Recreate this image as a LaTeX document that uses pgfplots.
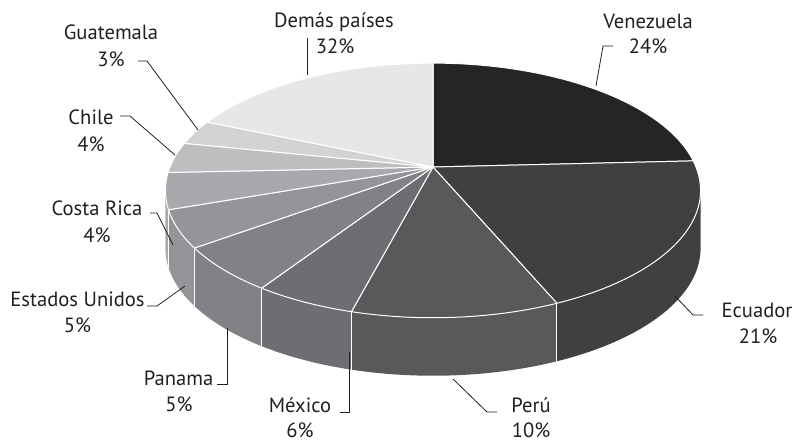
\documentclass[border=0pt]{standalone}
\usepackage{fontspec}
\setmainfont{PT Sans}
\usepackage{pgfplots}
\usepackage{pgfplotstable}
\pgfplotsset{compat=1.18}

\definecolor{cVen}{HTML}{262425}
\definecolor{cEcu}{HTML}{404041}
\definecolor{cPer}{HTML}{58595B}
\definecolor{cMex}{HTML}{6D6E71}
\definecolor{cPan}{HTML}{808285}
\definecolor{cUSA}{HTML}{939598}
\definecolor{cCRi}{HTML}{A7A9AC}
\definecolor{cChi}{HTML}{BCBEC0}
\definecolor{cGua}{HTML}{D1D3D4}
\definecolor{cDem}{HTML}{E6E7E8}
\definecolor{txt}{HTML}{231F20}

% share of the circle as drawn (%), label as printed
\pgfplotstableread{
name share label
Venezuela 24.2 24
Ecuador 19.4 21
Peru 10.5 10
Mexico 5.2 6
Panama 5.7 5
EEUU 4.7 5
CostaRica 4.6 4
Chile 3.9 4
Guatemala 3.2 3
Demas 18.6 32
}\piedata

\def\getshare#1{\pgfplotstablegetelem{#1}{share}\of\piedata}
\def\aA{90}%
\getshare{0}\pgfmathsetmacro\aB{\aA-3.6*\pgfplotsretval}%
\getshare{1}\pgfmathsetmacro\aC{\aB-3.6*\pgfplotsretval}%
\getshare{2}\pgfmathsetmacro\aD{\aC-3.6*\pgfplotsretval}%
\getshare{3}\pgfmathsetmacro\aE{\aD-3.6*\pgfplotsretval}%
\getshare{4}\pgfmathsetmacro\aF{\aE-3.6*\pgfplotsretval}%
\getshare{5}\pgfmathsetmacro\aG{\aF-3.6*\pgfplotsretval}%
\getshare{6}\pgfmathsetmacro\aH{\aG-3.6*\pgfplotsretval}%
\getshare{7}\pgfmathsetmacro\aI{\aH-3.6*\pgfplotsretval}%
\getshare{8}\pgfmathsetmacro\aJ{\aI-3.6*\pgfplotsretval}%
\getshare{9}\pgfmathsetmacro\aK{\aJ-3.6*\pgfplotsretval}%

\newcommand\topslice[3]{%
  \addplot[fill=#3, draw=white, line width=1pt, line join=round,
    domain=#1:#2, samples=90, variable=\t]
    ({px(\t)},{py(\t)}) -- (axis cs:433,167) -- cycle;}
\newcommand\sideslice[3]{%
  \pgfmathsetmacro\slo{max(#1,-169.4)}%
  \pgfmathsetmacro\shi{min(#2,-10.6)}%
  \addplot[fill=#3, draw=none,
    samples at={0,0.025,...,1,1.00001,1.025,...,2}, variable=\t]
    ({px(\slo+(\shi-\slo)*min(\t,2-\t))},
     {py(\slo+(\shi-\slo)*min(\t,2-\t))+58*(\t>1)}) -- cycle;}
\newcommand\sideline[1]{%
  \addplot[white, line width=1pt, domain=0:58, samples=2, variable=\d]
    ({px(#1)},{py(#1)+\d});}

\begin{document}
\begin{tikzpicture}[
  declare function={px(\a)=433+263*cos(\a)/(1+0.184*sin(\a));
                    py(\a)=167-123*sin(\a)/(1+0.184*sin(\a));},
  lbl/.style={anchor=base, text=txt, font=\fontsize{20.6}{24}\selectfont, inner sep=0pt},
  ld/.style={draw=txt, line width=0.8pt}]
\begin{axis}[width=796pt, height=442pt, scale only axis,
  xmin=0, xmax=796, ymin=0, ymax=442, y dir=reverse,
  hide axis, clip=false]
\path (axis cs:0,0) rectangle (axis cs:796,442);
% sides
\sideslice{\aC}{\aB}{cEcu}
\sideslice{\aD}{\aC}{cPer}
\sideslice{\aE}{\aD}{cMex}
\sideslice{\aF}{\aE}{cPan}
\sideslice{\aG}{\aF}{cUSA}
\sideslice{\aH}{\aG}{cCRi}
\sideline{\aC}
\sideline{\aD}
\sideline{\aE}
\sideline{\aF}
\sideline{\aG}
% tops
\topslice{\aB}{\aA}{cVen}
\topslice{\aC}{\aB}{cEcu}
\topslice{\aD}{\aC}{cPer}
\topslice{\aE}{\aD}{cMex}
\topslice{\aF}{\aE}{cPan}
\topslice{\aG}{\aF}{cUSA}
\topslice{\aH}{\aG}{cCRi}
\topslice{\aI}{\aH}{cChi}
\topslice{\aJ}{\aI}{cGua}
\topslice{\aK}{\aJ}{cDem}
% leaders
\draw[ld] (axis cs:596,86) -- (axis cs:603,46) -- (axis cs:613,46);
\draw[ld] (axis cs:307,38) -- (axis cs:307,75);
\draw[ld] (axis cs:138,61) -- (axis cs:147,61) -- (axis cs:198,130);
\draw[ld] (axis cs:120,116) -- (axis cs:130,116) -- (axis cs:175,155);
\draw[ld] (axis cs:150,213) -- (axis cs:157,213) -- (axis cs:173,245);
\draw[ld] (axis cs:147,306) -- (axis cs:157,306) -- (axis cs:185,286);
\draw[ld] (axis cs:217,384) -- (axis cs:227,384) -- (axis cs:227,328);
\draw[ld] (axis cs:340,412) -- (axis cs:349,412) -- (axis cs:349,352);
\draw[ld] (axis cs:453,379) -- (axis cs:487,412) -- (axis cs:497,412);
\draw[ld] (axis cs:675,296) -- (axis cs:693,315) -- (axis cs:703,315);
% labels
\node[lbl] at (axis cs:648,28) {Venezuela};
\node[lbl] at (axis cs:648,53) {24\%};
\node[lbl] at (axis cs:334,27) {Demás países};
\node[lbl] at (axis cs:335,53) {32\%};
\node[lbl] at (axis cs:111,39) {Guatemala};
\node[lbl] at (axis cs:111,66) {3\%};
\node[lbl] at (axis cs:91,124) {Chile};
\node[lbl] at (axis cs:91,151) {4\%};
\node[lbl] at (axis cs:97,215) {Costa Rica};
\node[lbl] at (axis cs:97,242) {4\%};
\node[lbl] at (axis cs:77.5,306) {Estados Unidos};
\node[lbl] at (axis cs:77.5,332) {5\%};
\node[lbl] at (axis cs:178.5,385) {Panama};
\node[lbl] at (axis cs:179,411) {5\%};
\node[lbl] at (axis cs:300,412) {México};
\node[lbl] at (axis cs:300,437) {6\%};
\node[lbl] at (axis cs:531,412) {Perú};
\node[lbl] at (axis cs:531,437) {10\%};
\node[lbl] at (axis cs:757,317) {Ecuador};
\node[lbl] at (axis cs:758,343) {21\%};
\end{axis}
\end{tikzpicture}
\end{document}
